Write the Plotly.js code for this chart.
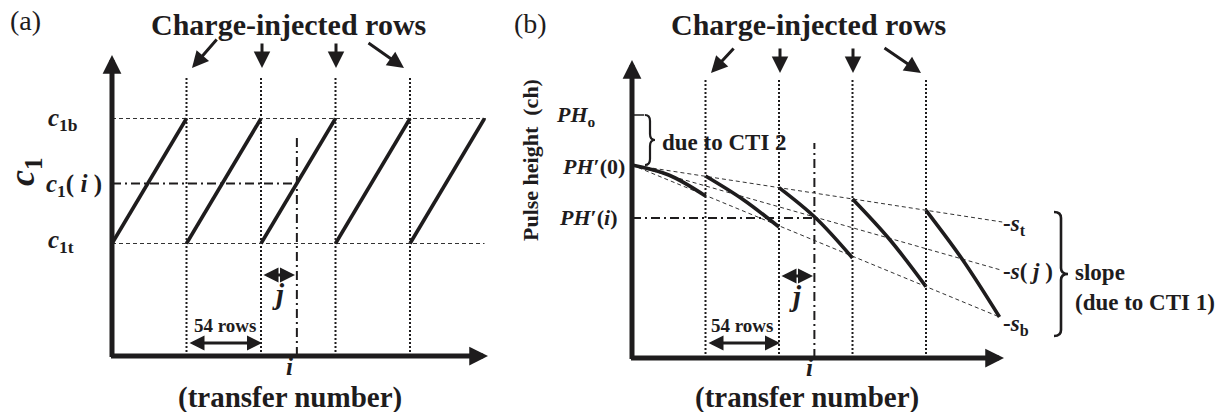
<!DOCTYPE html>
<html>
<head>
<meta charset="utf-8">
<script src="https://cdn.plot.ly/plotly-3.0.1.min.js"></script>
<style>
html,body{margin:0;padding:0;background:#fff;}
#chart{width:1230px;height:412px;}
</style>
</head>
<body>
<div id="chart"></div>
<script>
// ---------------- DATA ----------------
// Panel (a): c1 versus transfer number i (schematic sawtooth)
const injectedRows = [54, 108, 162, 216];          // charge-injected rows (54-row period)
const c1Top = 0.9;                                  // c1t
const c1Bottom = 1.9;                               // c1b
const sawStartRows = [0, 54, 108, 162, 216];        // start of each rising ramp
const sawEndRows = [54, 108, 162, 216, 270];        // end of each rising ramp
const transferI = 134;                              // example transfer number i
const c1AtI = 1.381;                                // c1(i)

// Panel (b): pulse height versus transfer number (schematic)
const segRows = [
  [0, 27, 54],
  [54, 81, 108],
  [108, 135, 162],
  [162, 189, 216],
  [216, 243, 270]
];
const segPH = [
  [965, 915, 810],
  [910, 795, 655],
  [852, 700, 500],
  [795, 595, 357],
  [738, 490, 205]
];
const PH0 = 1215;        // PH_o
const PHprime0 = 965;    // PH'(0)
const PHprimeI = 700;    // PH'(i)
const slopeNames = ['-s_t', '-s(j)', '-s_b'];
const slopeEndRows = [272, 271, 270];
const slopeEndPH = [680, 440, 205];

// ---------------- LAYOUT HELPERS (page geometry only) ----------------
const W = 1230, H = 412;
const PX = p => p / W;
const PY = p => 1 - p / H;
const FONT = 'Liberation Serif';
const INK = '#1e1c1d';

const traces = [];
function line(xs, ys, axis, opts) {
  traces.push(Object.assign({
    type: 'scatter', mode: 'lines', x: xs, y: ys,
    xaxis: axis === 2 ? 'x2' : 'x', yaxis: axis === 2 ? 'y2' : 'y',
    hoverinfo: 'skip', showlegend: false, cliponaxis: false
  }, opts));
}
const dotted = {color: INK, width: 2, dash: '2px,2px'};
const dashed = {color: '#333', width: 1, dash: '4px,3px'};
const dashdot = {color: INK, width: 2, dash: '9px,4px,2px,4px'};
const solid = {color: INK, width: 3.6};

// ---- panel (a) ----
injectedRows.forEach(r => line([r, r], [0, 2.24], 1, {line: dotted}));
line([0, 271], [c1Bottom, c1Bottom], 1, {line: dashed});
line([0, 270], [c1Top, c1Top], 1, {line: dashed});
line([0, transferI], [c1AtI, c1AtI], 1, {line: dashdot});
line([transferI, transferI], [0, 1.744], 1, {line: dashdot});
sawStartRows.forEach((s, k) => line([s, sawEndRows[k]], [c1Top, c1Bottom], 1, {line: solid}));

// ---- panel (b) ----
injectedRows.forEach(r => line([r, r], [0, 1390], 2, {line: dotted}));
slopeEndRows.forEach((r, k) => line([0, r], [PHprime0, slopeEndPH[k]], 2, {line: dashed, name: slopeNames[k]}));
line([0, transferI], [PHprimeI, PHprimeI], 2, {line: dashdot});
line([transferI, transferI], [0, 1075], 2, {line: dashdot});
line([0, 9], [PH0, PH0], 2, {line: {color: INK, width: 1.5}});
segRows.forEach((xs, k) => line(xs, segPH[k], 2, {line: Object.assign({shape: 'spline'}, solid)}));

// ---------------- ANNOTATIONS ----------------
const ann = [];
function text(t, x, y, size, opts) {
  ann.push(Object.assign({
    xref: 'paper', yref: 'paper', x: PX(x), y: PY(y), text: t, showarrow: false,
    xanchor: 'center', yanchor: 'middle',
    font: {family: FONT, size: size, color: INK}
  }, opts || {}));
}
function arrow(x0, y0, x1, y1, w, size, both) {
  ann.push({
    xref: 'paper', yref: 'paper', x: PX(x1), y: PY(y1), ax: x0 - x1, ay: y0 - y1,
    text: '', showarrow: true, arrowhead: 2, arrowsize: size, arrowwidth: w, arrowcolor: INK,
    arrowside: both ? 'end+start' : 'end', startarrowhead: 2, startarrowsize: size, standoff: 0, startstandoff: 0
  });
}

// panel (a)
text('(a)', 25, 21, 28);
text('<b>Charge-injected rows</b>', 288, 25, 30);
arrow(218, 38, 192, 68, 3, 1.1);
arrow(262, 42, 262, 68, 3, 1.1);
arrow(336, 42, 336, 68, 3, 1.1);
arrow(367, 42, 404, 68, 3, 1.1);
arrow(112, 358.5, 112, 55, 5, 0.75);
arrow(109.5, 356, 488, 356, 5, 0.75);
text('<b><i>c</i><sub>1</sub></b>', 24, 172, 36, {textangle: -90});
text('<b><i>c</i><sub>1b</sub></b>', 46, 119, 25, {xanchor: 'left'});
text('<b><i>c</i><sub>1</sub>( <i>i</i> )</b>', 44, 185, 25, {xanchor: 'left'});
text('<b><i>c</i><sub>1t</sub></b>', 46, 242, 25, {xanchor: 'left'});
arrow(262, 275, 295, 275, 3, 1.0, true);
text('<b><i>j</i></b>', 278, 294, 29);
arrow(188, 343, 262, 343, 3, 1.0, true);
text('<b>54 rows</b>', 225, 325, 19);
text('<b><i>i</i></b>', 289, 366, 25);
text('<b>(transfer number)</b>', 290, 397, 29);

// panel (b)
text('(b)', 530, 24, 28);
text('<b>Charge-injected rows</b>', 808, 25, 30);
arrow(735, 47, 711, 73, 3, 1.1);
arrow(780, 47, 780, 73, 3, 1.1);
arrow(853, 47, 853, 73, 3, 1.1);
arrow(883, 47, 921, 73, 3, 1.1);
arrow(632, 360.5, 632, 60, 5, 0.75);
arrow(629.5, 358, 1004, 358, 5, 0.75);
text('<b>Pulse height  (ch)</b>', 530, 160, 22, {textangle: -90});
text('<b><i>PH</i><sub>o</sub></b>', 598, 116, 22, {xanchor: 'right'});
text('<b><i>PH</i>′(0)</b>', 627, 166, 22, {xanchor: 'right'});
text('<b><i>PH</i>′(<i>i</i>)</b>', 620, 217, 22, {xanchor: 'right'});
text('<b>due to CTI 2</b>', 660, 142, 23, {xanchor: 'left'});
text('<b>-<i>s</i><sub>t</sub></b>', 1001, 225, 23, {xanchor: 'left'});
text('<b>-<i>s</i>( <i>j</i> )</b>', 1001, 271, 23, {xanchor: 'left'});
text('<b>-<i>s</i><sub>b</sub></b>', 1001, 325, 23, {xanchor: 'left'});
text('<b>slope</b>', 1073, 272, 23, {xanchor: 'left'});
text('<b>(due to CTI 1)</b>', 1073, 302, 23, {xanchor: 'left'});
arrow(780, 276, 813, 276, 3, 1.0, true);
text('<b><i>j</i></b>', 796, 296, 29);
arrow(707, 343, 780, 343, 3, 1.0, true);
text('<b>54 rows</b>', 742, 325, 19);
text('<b><i>i</i></b>', 809, 367, 25);
text('<b>(transfer number)</b>', 807, 397, 29);

// ---------------- BRACES (paper-space paths) ----------------
function brace(x0, yTop, yBot, w) {
  const ym = (yTop + yBot) / 2, xm = x0 + w / 2, r = Math.min(6, (yBot - yTop) / 6);
  const P = (x, y) => PX(x).toFixed(5) + ',' + PY(y).toFixed(5);
  return 'M' + P(x0, yTop) +
    ' Q' + P(xm, yTop) + ' ' + P(xm, yTop + r) +
    ' L' + P(xm, ym - r) +
    ' Q' + P(xm, ym) + ' ' + P(x0 + w, ym) +
    ' Q' + P(xm, ym) + ' ' + P(xm, ym + r) +
    ' L' + P(xm, yBot - r) +
    ' Q' + P(xm, yBot) + ' ' + P(x0, yBot);
}
const shapes = [
  {type: 'path', xref: 'paper', yref: 'paper', path: brace(645, 115, 165, 10), line: {color: INK, width: 2.2}},
  {type: 'path', xref: 'paper', yref: 'paper', path: brace(1054, 212, 336, 14), line: {color: INK, width: 2.6}}
];

// ---------------- AXES ----------------
const hidden = {visible: false, showgrid: false, zeroline: false, fixedrange: true};
const layout = {
  width: W, height: H,
  margin: {l: 0, r: 0, t: 0, b: 0, pad: 0},
  paper_bgcolor: '#fff', plot_bgcolor: 'rgba(0,0,0,0)',
  showlegend: false,
  xaxis: Object.assign({domain: [0, 0.5], range: [-81.18, 364.59]}, hidden),
  yaxis: Object.assign({domain: [0, 1], range: [-0.448, 2.848]}, hidden),
  xaxis2: Object.assign({domain: [0.5, 1], range: [-12.49, 439.35], anchor: 'y2'}, hidden),
  yaxis2: Object.assign({domain: [0, 1], range: [-270, 1790], anchor: 'x2'}, hidden),
  annotations: ann,
  shapes: shapes
};
Plotly.newPlot('chart', traces, layout, {displayModeBar: false, staticPlot: true});
</script>
</body>
</html>
